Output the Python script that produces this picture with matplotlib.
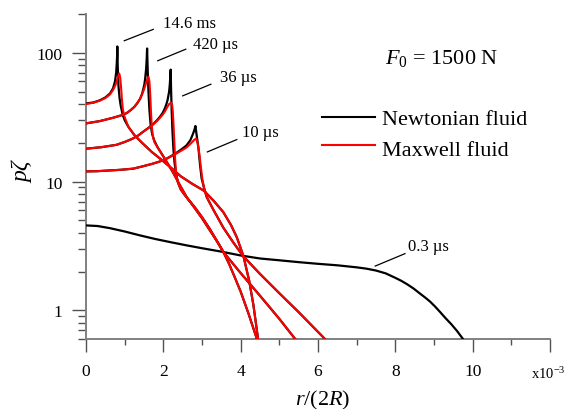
import numpy as np
import matplotlib.pyplot as plt
from matplotlib.ticker import NullFormatter, LogLocator, FixedLocator

plt.rcParams['font.family'] = ['Liberation Serif', 'DejaVu Serif']
plt.rcParams['mathtext.fontset'] = 'custom'
plt.rcParams['mathtext.rm'] = 'Liberation Serif'
plt.rcParams['mathtext.it'] = 'Liberation Serif:italic'

# r/(2R) in units of 1e-3, p*zeta

# 14.6 ms : plateau + peak (Newtonian / Maxwell), then shared tail
r_146_newt = [0, 0.2, 0.36, 0.5, 0.62, 0.7, 0.75, 0.78, 0.795, 0.805, 0.81, 0.82, 0.84, 0.87, 0.9, 0.95, 1.0]
p_146_newt = [40.4, 41.2, 42.8, 45, 48.3, 53, 60, 70, 82, 95, 112, 80, 55, 44, 38.5, 33, 30]
r_146_maxw = [0, 0.2, 0.36, 0.5, 0.62, 0.7, 0.76, 0.8, 0.83, 0.86, 0.885, 0.905, 0.925, 0.95, 0.98, 1.02]
p_146_maxw = [40, 41, 42.5, 44.5, 47.5, 51.5, 56, 61, 66, 69, 64, 55, 45, 37, 33, 30.5]
r_146_tail = [1.1, 1.25, 1.45, 1.7, 1.95, 2.2, 2.45, 2.75, 3.05, 3.3, 3.55, 3.75, 3.9, 4.07, 4.22, 4.33, 4.45]
p_146_tail = [26.5, 23, 20, 17, 14.8, 12.8, 11.0, 9.6, 8.5, 7.1, 5.8, 4.6, 3.7, 2.65, 1.7, 1.1, 0.6]

# 420 us
r_420_newt = [0, 0.36, 0.7, 0.9, 1.05, 1.15, 1.25, 1.33, 1.4, 1.45, 1.48, 1.51, 1.53, 1.555, 1.57, 1.58,
              1.595, 1.615, 1.64, 1.67, 1.71, 1.76]
p_420_newt = [28.3, 29.5, 31.3, 32.6, 34, 35.8, 38, 40.8, 44, 48, 52, 57, 63, 75, 90, 108,
              75, 50, 36, 28, 23.5, 21]
r_420_maxw = [0, 0.36, 0.7, 0.9, 1.05, 1.15, 1.25, 1.33, 1.4, 1.45, 1.5, 1.56, 1.595, 1.615, 1.64, 1.66,
              1.68, 1.7, 1.73, 1.77]
p_420_maxw = [28.3, 29.5, 31.3, 32.6, 34, 35.8, 38, 40.8, 44, 47.5, 52, 59, 63.5, 65, 60, 48,
              35, 27, 22.5, 20.2]
r_420_tail = [1.85, 1.96, 2.07, 2.25, 2.41, 2.6, 2.8, 3.0, 3.2, 3.4, 3.55, 3.7, 3.85, 4.0, 4.2, 4.42]
p_420_tail = [18.5, 16.4, 14.5, 11.8, 9.6, 7.6, 6.3, 5.2, 4.2, 3.4, 2.85, 2.3, 1.8, 1.4, 0.95, 0.6]

# 36 us
r_36_newt = [0, 0.4, 0.79, 1.0, 1.2, 1.35, 1.48, 1.62, 1.74, 1.83, 1.91, 1.98, 2.04, 2.08, 2.11, 2.15,
             2.17, 2.18, 2.19, 2.2, 2.215, 2.235, 2.26, 2.29]
p_36_newt = [18, 18.5, 19.3, 20.3, 21.5, 22.8, 24.4, 26.2, 28, 29.8, 31.8, 34, 37, 40, 43, 50,
             58, 66, 74, 52, 36, 25, 18, 14]
r_36_maxw = [0, 0.4, 0.79, 1.0, 1.2, 1.35, 1.48, 1.62, 1.74, 1.83, 1.91, 1.98, 2.04, 2.1, 2.15, 2.2,
             2.225, 2.245, 2.265, 2.285, 2.305]
p_36_maxw = [18, 18.5, 19.3, 20.3, 21.5, 22.8, 24.4, 26.1, 27.8, 29.4, 31.2, 33, 35, 37.8, 40, 41,
             40, 35, 27, 20, 15]
r_36_tail = [2.33, 2.38, 2.45, 2.55, 2.64, 2.8, 3.0, 3.2, 3.4, 3.55, 4.0, 4.5, 5.0, 5.41]
p_36_tail = [11.5, 9.8, 8.7, 7.9, 7.3, 6.4, 5.3, 4.3, 3.4, 2.85, 1.95, 1.3, 0.86, 0.6]

# 10 us
r_10_newt = [0, 0.3, 0.6, 0.9, 1.22, 1.45, 1.7, 1.9, 2.09, 2.22, 2.35, 2.48, 2.6, 2.7, 2.76, 2.8,
             2.83, 2.87, 2.91, 2.95, 2.99]
p_10_newt = [12, 12.05, 12.2, 12.35, 12.6, 13.1, 13.7, 14.3, 15.1, 15.9, 16.8, 17.9, 19.1, 21, 23.2, 25,
             27, 22, 18, 13.4, 10.6]
r_10_maxw = [0, 0.3, 0.6, 0.9, 1.22, 1.45, 1.7, 1.9, 2.09, 2.22, 2.35, 2.48, 2.6, 2.72, 2.8, 2.85,
             2.89, 2.93, 2.97, 3.01]
p_10_maxw = [12, 12.05, 12.2, 12.35, 12.6, 13.1, 13.7, 14.3, 15.1, 15.8, 16.6, 17.5, 18.4, 19.9, 21.1, 21.6,
             19.8, 16.5, 13, 10.4]
r_10_tail = [3.05, 3.12, 3.3, 3.55, 3.8, 4.06, 4.5, 5.0, 5.5, 6.18]
p_10_tail = [9.0, 7.6, 6.0, 4.4, 3.4, 2.65, 1.92, 1.36, 0.97, 0.6]

# 0.3 us (both fluids coincide)
r_03 = [0, 0.3, 0.62, 1.0, 1.4, 1.8, 2.2, 2.6, 3.0, 3.5, 4.0, 4.5, 5.0, 5.5, 6.0, 6.5, 7.0, 7.25,
        7.5, 7.75, 8.0, 8.15, 8.3, 8.47, 8.64, 8.77, 8.9, 9.03, 9.16, 9.3, 9.45, 9.6, 9.75]
p_03 = [4.57, 4.52, 4.35, 4.1, 3.82, 3.58, 3.38, 3.2, 3.04, 2.86, 2.67, 2.53, 2.45, 2.37, 2.3, 2.24, 2.16, 2.11,
        2.04, 1.94, 1.79, 1.70, 1.6, 1.48, 1.35, 1.26, 1.17, 1.07, 0.97, 0.87, 0.78, 0.69, 0.6]

curves = [
    (r_146_newt, p_146_newt, r_146_maxw, p_146_maxw, r_146_tail, p_146_tail),
    (r_420_newt, p_420_newt, r_420_maxw, p_420_maxw, r_420_tail, p_420_tail),
    (r_36_newt, p_36_newt, r_36_maxw, p_36_maxw, r_36_tail, p_36_tail),
    (r_10_newt, p_10_newt, r_10_maxw, p_10_maxw, r_10_tail, p_10_tail),
]

time_labels = ["14.6 ms", "420 \u00b5s", "36 \u00b5s", "10 \u00b5s", "0.3 \u00b5s"]
# leader lines (x0, y0, x1, y1) and label anchor (x, y baseline)
leaders = [(0.99, 124, 1.74, 152), (1.855, 86.7, 2.58, 106.6), (2.50, 46.3, 3.23, 57),
           (3.14, 17.0, 3.90, 21.2), (7.48, 2.21, 8.25, 2.76)]
label_pos = [(1.99, 159), (2.78, 109), (3.47, 60.2), (4.03, 22.5), (8.33, 2.93)]

fig = plt.figure(figsize=(5.68, 4.10), dpi=100)
ax = fig.add_axes([86 / 568, 1 - 340 / 410, (550 - 86) / 568, (340 - 15) / 410])
ax.set_yscale('log')

for rn, pn, rm, pm, rt, pt in curves:
    ax.plot(rn + rt, pn + pt, color='black', lw=1.6, zorder=3)
for rn, pn, rm, pm, rt, pt in curves:
    ax.plot(rm + rt, pm + pt, color='red', lw=1.5, zorder=4)
ax.plot(r_03, p_03, color='black', lw=1.6, zorder=3)

for (x0, y0, x1, y1), (tx, ty), lab in zip(leaders, label_pos, time_labels):
    ax.plot([x0, x1], [y0, y1], color='black', lw=0.9)
    ax.text(tx, ty, lab, fontsize=12, va='baseline', ha='left')

# legend drawn by hand
ax.plot([6.10, 7.48], [31.8, 31.8], color='black', lw=1.5)
ax.plot([6.10, 7.48], [19.1, 19.1], color='red', lw=1.5)
ax.text(7.65, 28.2, "Newtonian fluid", fontsize=16, va='baseline')
ax.text(7.65, 16.2, "Maxwell fluid", fontsize=16, va='baseline')
ax.text(7.74, 83.6, "$F_0$ = 1500 N", fontsize=16, va='baseline')

ax.set_xlim(0, 12)
ax.set_ylim(0.6, 200)
ax.set_xticks([0, 2, 4, 6, 8, 10, 12])
ax.set_xticklabels(['0', '2', '4', '6', '8', '10', ''])
ax.xaxis.set_minor_locator(FixedLocator([1, 3, 5, 7, 9, 11]))
ax.set_yticks([1, 10, 100])
ax.set_yticklabels(['1', '10', '100'])
ax.yaxis.set_minor_locator(LogLocator(base=10, subs=np.arange(2, 10)))
ax.yaxis.set_minor_formatter(NullFormatter())

for s in ['top', 'right']:
    ax.spines[s].set_visible(False)
for s in ['left', 'bottom']:
    ax.spines[s].set_color('#808080')
    ax.spines[s].set_linewidth(1.4)

ax.tick_params(axis='y', which='major', direction='out', length=10, width=1, color='#505050', labelsize=12.5, pad=7)
ax.tick_params(axis='y', which='minor', direction='out', length=5.5, width=1, color='#505050')
ax.tick_params(axis='x', which='major', direction='out', length=9.5, width=1, color='#505050', labelsize=12.5, pad=8)
ax.tick_params(axis='x', which='minor', direction='out', length=4.3, width=1, color='#505050')

fig.text(23 / 568, 1 - 172 / 410, "p\u03b6", rotation=90, fontstyle='italic', fontsize=17, ha='center', va='center')
fig.text(323 / 568, 1 - 400 / 410, "$r/(2R)$", fontsize=16, ha='center', va='center')
fig.text(531 / 568, 1 - 379 / 410, "x10$^{-3}$", fontsize=10.5, va='baseline')

fig.savefig('out.png', dpi=100)
